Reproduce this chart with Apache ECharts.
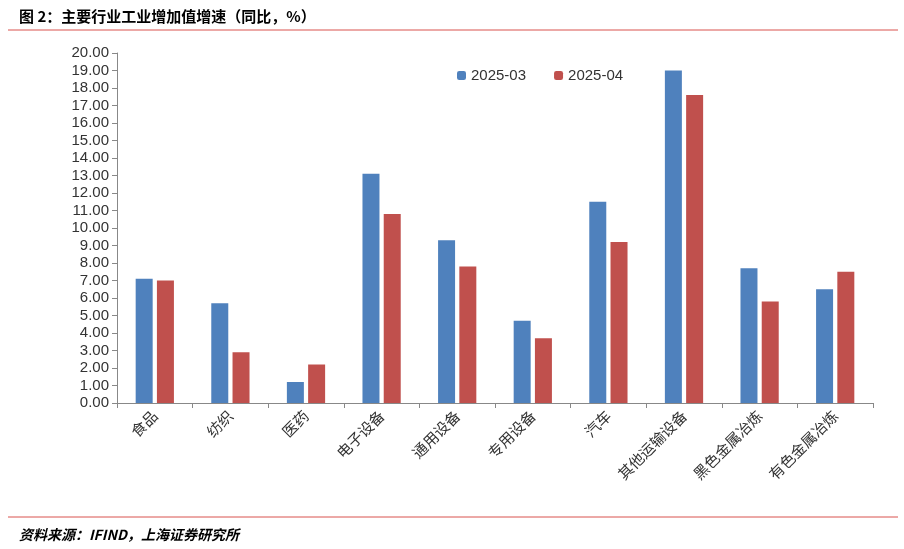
<!DOCTYPE html>
<html>
<head>
<meta charset="utf-8">
<script src="https://cdn.jsdelivr.net/npm/echarts@6/dist/echarts.min.js"></script>
<style>
  body { margin: 0; background: #fff; }
  #main { width: 904px; height: 549px; }
</style>
</head>
<body>
<div id="main"></div>
<script>
// 行业分类
const categories = ["食品", "纺织", "医药", "电子设备", "通用设备", "专用设备", "汽车", "其他运输设备", "黑色金属冶炼", "有色金属冶炼"];
const seriesMar = [7.1, 5.7, 1.2, 13.1, 9.3, 4.7, 11.5, 19.0, 7.7, 6.5];
const seriesApr = [7.0, 2.9, 2.2, 10.8, 7.8, 3.7, 9.2, 17.6, 5.8, 7.5];
const seriesNames = ["2025-03", "2025-04"];

const myChart = echarts.init(document.getElementById("main"));
const font = "'Noto Sans CJK SC', 'Liberation Sans', sans-serif";
const option = {
  animation: false,
  textStyle: { fontFamily: font },
  title: [
    { text: "图 2：主要行业工业增加值增速（同比，%）", left: 14, top: 4,
      textStyle: { fontSize: 15, fontWeight: "bold", color: "#000", fontFamily: font } },
    { text: "资料来源：IFIND，上海证券研究所", left: 14, top: 523,
      textStyle: { fontSize: 14, fontWeight: "bold", fontStyle: "italic", color: "#000", fontFamily: font } }
  ],
  graphic: [
    { type: "line", shape: { x1: 8, y1: 30, x2: 898, y2: 30 }, style: { stroke: "#D9534F", lineWidth: 1 } },
    { type: "line", shape: { x1: 8, y1: 517, x2: 898, y2: 517 }, style: { stroke: "#D9534F", lineWidth: 1 } }
  ],
  legend: {
    data: seriesNames, left: 452, top: 63, itemWidth: 9, itemHeight: 9, itemGap: 28,
    textStyle: { fontSize: 15, color: "#333", fontFamily: "'Liberation Sans', sans-serif" }
  },
  grid: { left: 117, right: 31, top: 53, bottom: 146 },
  xAxis: {
    type: "category", data: categories,
    axisLine: { lineStyle: { color: "#888" } },
    axisTick: { show: true, alignWithLabel: false, lineStyle: { color: "#888" } },
    axisLabel: { rotate: 45, fontSize: 15, color: "#333", margin: 10, interval: 0 }
  },
  yAxis: {
    type: "value", min: 0, max: 20, interval: 1,
    axisLine: { show: true, lineStyle: { color: "#888" } },
    axisTick: { show: true, lineStyle: { color: "#888" } },
    splitLine: { show: false },
    axisLabel: { fontSize: 15, color: "#333", fontFamily: "'Liberation Sans', sans-serif",
      formatter: v => v.toFixed(2) }
  },
  series: [
    { name: seriesNames[0], type: "bar", data: seriesMar, barWidth: 17, barGap: "25%", itemStyle: { color: "#4F81BD" } },
    { name: seriesNames[1], type: "bar", data: seriesApr, barWidth: 17, itemStyle: { color: "#C0504D" } }
  ]
};
myChart.setOption(option);
</script>
</body>
</html>
